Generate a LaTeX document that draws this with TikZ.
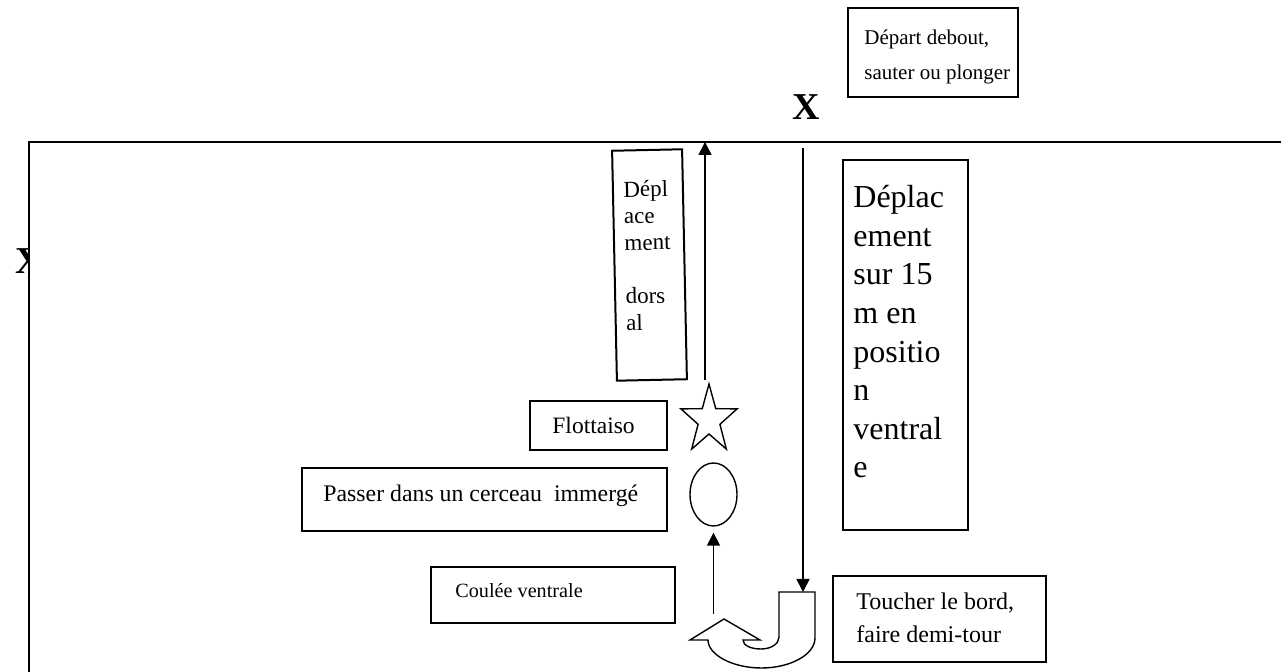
\documentclass[tikz,border=0pt]{standalone}
\usepackage{fontspec}
\setmainfont{Liberation Serif}
\usepackage{tikz}
\usetikzlibrary{arrows.meta, positioning, shapes.geometric, calc}

\begin{document}
\begin{tikzpicture}[x=0.5pt, y=0.5pt, wordbox/.style={draw, line width=1pt,
      inner sep=0pt}, boxtext/.style={anchor=base west, align=left, inner
      sep=0pt}, swimarrow/.style={line width=0.8pt,
      -{Triangle[length=6.5pt, width=6.5pt]}}, outline/.style={line
      width=0.7pt, line join=miter}, markX/.style={inner sep=0pt,
      font=\fontsize{19pt}{19pt}\selectfont\bfseries} ]
    \useasboundingbox (0,0) rectangle (1281,-672);

    % Side mark, half hidden by the pool
    \node[markX] (sideX) at (29,-261.5) {X};

    % Pool
    \fill[white] (29,-142) rectangle (1281,-672);
    \draw[line width=0.8pt] (1281,-142) -- (29,-142) -- (29,-672);

    % Start mark
    \node[markX] (topX) at (806,-107.5) {X};

    % Text boxes (text sits on the baseline of its last line)
    \node[wordbox, minimum width=85pt, minimum height=44.5pt] (depart) at
    (933,-52.5) {}; \node[boxtext, font=\fontsize{10.5pt}{17.5pt}\selectfont]
    (departtext) at (864,-80) {Départ debout,\\sauter ou plonger};

    \node[wordbox, rotate=1.2, minimum width=35pt, minimum height=115pt]
    (dorsal) at (649.5,-265) {}; \node[boxtext, rotate=1.2,
    font=\fontsize{11.5pt}{13.35pt}\selectfont] (dorsaltext) at (626,-330.5)
    {Dépl\\ace\\ment\\\mbox{}\\dors\\al};

    \node[wordbox, minimum width=62.5pt, minimum height=185pt] (ventral) at
    (905.5,-345) {}; \node[boxtext, font=\fontsize{16pt}{19.3pt}\selectfont]
    (ventraltext) at (853,-478) {Déplac\\ement\\sur 15\\m en\\positio\\n\\
    ventral\\e};

    \node[wordbox, minimum width=68.5pt, minimum height=24.5pt] (flott) at
    (598.5,-425.5) {}; \node[boxtext, font=\fontsize{11.75pt}{14pt}\selectfont]
    (flotttext) at (552,-434) {Flottaiso};

    \node[wordbox, minimum width=182.5pt, minimum height=31.5pt] (hoopbox) at
    (484.5,-499.5) {}; \node[boxtext,
    font=\fontsize{11.9pt}{14pt}\selectfont] (hooptext) at (323,-502)
    {Passer dans un cerceau \ immergé};

    \node[wordbox, minimum width=122pt, minimum height=28pt] (coulee) at
    (553,-595) {}; \node[boxtext, font=\fontsize{10.1pt}{14pt}\selectfont]
    (couleetext) at (455,-598) {Coulée ventrale};

    \node[wordbox, minimum width=106.5pt, minimum height=43pt] (toucher) at
    (939.5,-619) {}; \node[boxtext, font=\fontsize{12pt}{16.5pt}\selectfont]
    (touchertext) at (856,-643) {Toucher le bord,\\faire demi-tour};

    % Star and hoop
    \draw[outline, shift={(709,-420)}, xscale=0.82] (90:36) -- (126:14) --
    (162:36) -- (198:14) -- (234:36) -- (270:14) -- (306:36) -- (342:14) --
    (18:36) -- (54:14) -- cycle;
    \node[draw, ellipse, outline, inner sep=0pt, minimum width=23.5pt, minimum
    height=31.5pt] (hoop) at (713.5,-494.5) {};

    % Swim path
    \coordinate (divein) at (803,-148); \coordinate (turntop) at (803,-592);
    \coordinate (glidefoot) at (713.5,-614); \coordinate (starfoot) at
    (705,-380); \coordinate (wallup) at (705,-142);
    \draw[swimarrow] (divein) -- (turntop);
    \draw[swimarrow, shorten >=3pt] (glidefoot) -- (hoop.south);
    \draw[swimarrow] (starfoot) -- (wallup);

    % U-turn arrow
    \draw[outline] (779,-592) -- (815,-592) -- (815,-638) .. controls
    (815,-654.5) and (790.5,-668) .. (761.5,-668) .. controls (732,-668) and
    (708,-654.5) .. (708,-640) -- (690,-640) -- (724,-619) -- (760,-640) --
    (743,-640) .. controls (743,-645.5) and (751,-649) .. (761,-649) ..
    controls (771,-649) and (779,-644) .. (779,-637) -- cycle;

\end{tikzpicture}
\end{document}
